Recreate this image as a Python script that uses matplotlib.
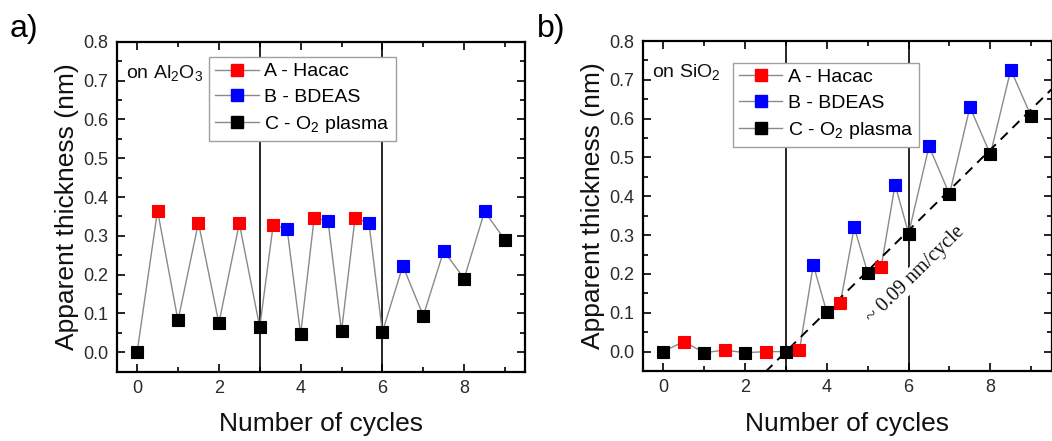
import numpy as np
import matplotlib
matplotlib.use("Agg")
import matplotlib.pyplot as plt
from matplotlib.lines import Line2D
from matplotlib.ticker import MultipleLocator

plt.rcParams['font.family'] = ['Liberation Sans', 'DejaVu Sans']
plt.rcParams['mathtext.default'] = 'regular'

# ---------------- data ----------------
series_labels = ["A - Hacac", "B - BDEAS", "C - O$_2$ plasma"]
series_colors = ["#ff0000", "#0000ff", "#000000"]

# panel a) on Al2O3
a_A_x = [0.5, 1.5, 2.5, 3.33, 4.33, 5.33]
a_A_y = [0.365, 0.334, 0.332, 0.329, 0.345, 0.345]
a_B_x = [3.67, 4.67, 5.67, 6.5, 7.5, 8.5]
a_B_y = [0.317, 0.339, 0.334, 0.223, 0.261, 0.363]
a_C_x = [0, 1, 2, 3, 4, 5, 6, 7, 8, 9]
a_C_y = [0.0, 0.082, 0.075, 0.065, 0.046, 0.054, 0.052, 0.094, 0.190, 0.289]

# panel b) on SiO2
b_A_x = [0.5, 1.5, 2.5, 3.33, 4.33, 5.33]
b_A_y = [0.026, 0.004, 0.0, 0.004, 0.125, 0.219]
b_B_x = [3.67, 4.67, 5.67, 6.5, 7.5, 8.5]
b_B_y = [0.223, 0.320, 0.430, 0.529, 0.630, 0.726]
b_C_x = [0, 1, 2, 3, 4, 5, 6, 7, 8, 9]
b_C_y = [0.0, -0.003, -0.003, 0.0, 0.101, 0.203, 0.304, 0.405, 0.508, 0.606]

# linear growth guide in panel b
fit_slope = 0.104      # nm per cycle (visual)
fit_x0 = 3.0           # nucleation delay (cycles)
fit_xrange = [2.5, 9.6]
fit_label = "~ 0.09 nm/cycle"

divider_x = [3, 6]
x_ticks = [0, 2, 4, 6, 8]
y_ticks = [0.0, 0.1, 0.2, 0.3, 0.4, 0.5, 0.6, 0.7, 0.8]

# ---------------- figure ----------------
fig = plt.figure(figsize=(10.52, 4.41), dpi=100)
ax_a = fig.add_axes([0.1109, 0.1571, 0.3886, 0.7483])
ax_b = fig.add_axes([0.6111, 0.1587, 0.3886, 0.7483])

LINE_GRAY = "#8a8a8a"
MS = 8.9


def draw_panel(ax, sets, substrate_text, legend_anchor):
    xs = np.concatenate([np.asarray(s[0], float) for s in sets])
    ys = np.concatenate([np.asarray(s[1], float) for s in sets])
    order = np.argsort(xs, kind="stable")
    ax.plot(xs[order], ys[order], color=LINE_GRAY, lw=1.0, zorder=2)
    for (sx, sy), col in zip(sets, series_colors):
        ax.plot(sx, sy, ls="none", marker="s", ms=MS, mfc=col, mec=col,
                mew=0.8, zorder=4)
    for xv in divider_x:
        ax.axvline(xv, color="black", lw=1.2, zorder=1)
    ax.set_xlim(-0.5, 9.5)
    ax.set_ylim(-0.05, 0.8)
    ax.set_xticks(x_ticks)
    ax.set_yticks(y_ticks)
    ax.xaxis.set_minor_locator(MultipleLocator(1))
    ax.yaxis.set_minor_locator(MultipleLocator(0.05))
    ax.tick_params(which="both", direction="in", top=True, right=True,
                   labelsize=13, labelcolor="#2a2a2a", width=1.2)
    ax.tick_params(which="major", length=6, pad=6)
    ax.tick_params(which="minor", length=3.5)
    for sp in ax.spines.values():
        sp.set_linewidth(1.6)
    ax.set_xlabel("Number of cycles", fontsize=19, labelpad=11, color="#111111")
    ax.set_ylabel("Apparent thickness (nm)", fontsize=19, labelpad=3,
                  color="#111111")
    ax.text(0.023, 0.905, substrate_text, transform=ax.transAxes,
            fontsize=14, ha="left", va="center", color="#111111")
    handles = [Line2D([], [], color=LINE_GRAY, lw=1.0, marker="s", ms=MS,
                      mfc=c, mec=c) for c in series_colors]
    leg = ax.legend(handles, series_labels, loc="upper left",
                    bbox_to_anchor=legend_anchor, borderaxespad=0,
                    fontsize=14, handlelength=2.25, handletextpad=0.3,
                    borderpad=0.3, labelspacing=0.42, fancybox=False,
                    framealpha=1, edgecolor="#a0a0a0")
    leg.get_frame().set_linewidth(1.0)
    leg.set_zorder(5)


draw_panel(ax_a, [(a_A_x, a_A_y), (a_B_x, a_B_y), (a_C_x, a_C_y)],
           "on Al$_2$O$_3$", (0.226, 0.954))
draw_panel(ax_b, [(b_A_x, b_A_y), (b_B_x, b_B_y), (b_C_x, b_C_y)],
           "on SiO$_2$", (0.220, 0.934))

fx = np.array(fit_xrange)
ax_b.plot(fx, fit_slope * (fx - fit_x0), color="black", lw=1.4,
          ls=(0, (5, 3.5)), zorder=3)
ax_b.text(6.18, 0.198, fit_label, fontsize=14.5, family="Liberation Serif",
          rotation=44.6, rotation_mode="anchor", ha="center", va="center",
          zorder=3.5, color="#111111",
          bbox=dict(facecolor="white", edgecolor="none", pad=0.5))

fig.text(0.0095, 1 - 37 / 441, "a)", fontsize=23, ha="left", va="baseline")
fig.text(0.510, 1 - 37 / 441, "b)", fontsize=23, ha="left", va="baseline")

fig.savefig("out.png", dpi=100)
